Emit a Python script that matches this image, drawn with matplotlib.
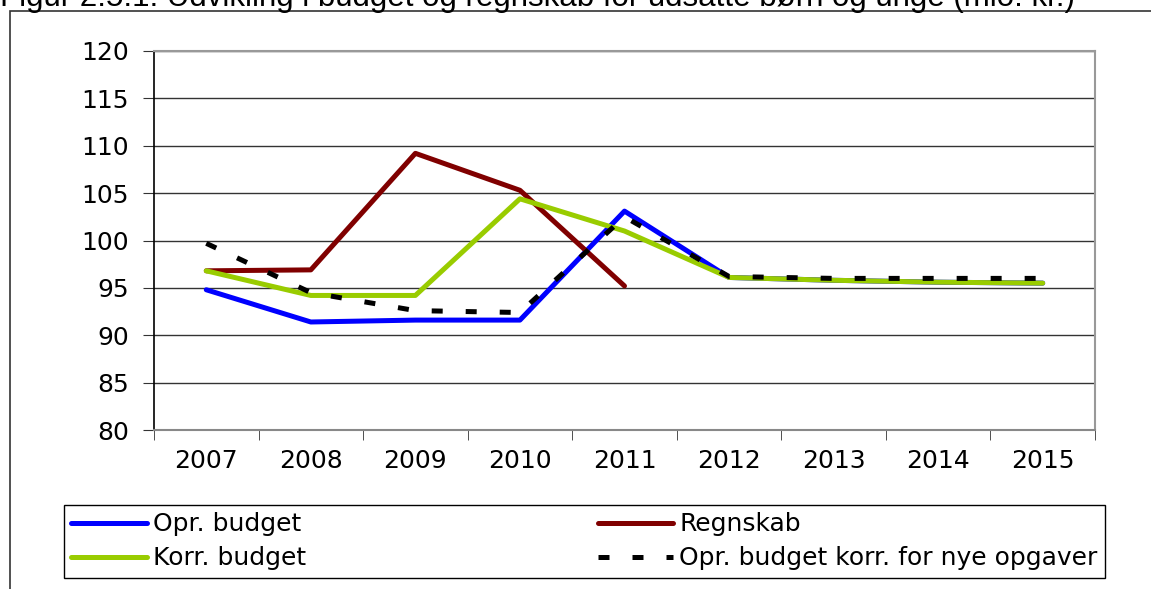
import matplotlib.pyplot as plt
from matplotlib.patches import Rectangle

aar = ['2007', '2008', '2009', '2010', '2011', '2012', '2013', '2014', '2015']
opr_budget = [94.8, 91.4, 91.6, 91.6, 103.1, 96.1, 95.8, 95.6, 95.5]
regnskab = [96.8, 96.9, 109.2, 105.3, 95.2]
korr_budget = [96.8, 94.2, 94.2, 104.4, 101.0, 96.1, 95.8, 95.6, 95.5]
opr_korr = [99.7, 94.5, 92.6, 92.4, 102.5, 96.2, 96.0, 96.0, 96.0]
y_ticks = [80, 85, 90, 95, 100, 105, 110, 115, 120]

W, H = 1151, 589
fs = 18
fig = plt.figure(figsize=(W / 100, H / 100), dpi=100)

# ydre ramme (top + venstre kant)
fig.add_artist(Rectangle((10 / W, -0.1), 1.2, 1.1 - 11 / H, transform=fig.transFigure,
                         fill=False, edgecolor='#333333', lw=1.2))

fig.text(0.0, 1 - 6 / H,
         'Figur 2.5.1: Udvikling i budget og regnskab for udsatte børn og unge (mio. kr.)',
         fontsize=22.5, family='Liberation Sans', va='baseline', ha='left')

ax = fig.add_axes([154 / W, 1 - 430 / H, (1095 - 154) / W, (430 - 51) / H])
x = list(range(len(aar)))

l1, = ax.plot(x, opr_budget, color='#0000ff', lw=3.6, label='Opr. budget', solid_capstyle='round')
l2, = ax.plot(x[:len(regnskab)], regnskab, color='#800000', lw=3.6, label='Regnskab', solid_capstyle='round')
l3, = ax.plot(x, korr_budget, color='#99cc00', lw=3.6, label='Korr. budget', solid_capstyle='round')
l4, = ax.plot(x, opr_korr, color='black', lw=3.6, dashes=(2.2, 4.6), dash_capstyle='butt',
              label='Opr. budget korr. for nye opgaver')

ax.set_xlim(-0.5, len(aar) - 0.5)
ax.set_ylim(80, 120)
ax.set_yticks(y_ticks)
ax.set_xticks(x)
ax.set_xticklabels(aar)
ax.set_xticks([i - 0.5 for i in range(len(aar) + 1)], minor=True)
ax.tick_params(axis='x', which='major', length=0, pad=14, labelsize=fs)
ax.tick_params(axis='x', which='minor', length=7, direction='out', color='#333333')
ax.tick_params(axis='y', length=8, direction='out', pad=10, labelsize=fs, color='#333333')
ax.grid(axis='y', color='#333333', lw=1.0)
ax.set_axisbelow(True)

ax.spines['left'].set_color('black')
ax.spines['left'].set_linewidth(1.2)
ax.spines['bottom'].set_color('#888888')
ax.spines['bottom'].set_linewidth(1.5)
ax.spines['top'].set_color('#999999')
ax.spines['top'].set_linewidth(1.5)
ax.spines['right'].set_color('#999999')
ax.spines['right'].set_linewidth(1.5)

fig.legend([l1, l3, l2, l4], [l1.get_label(), l3.get_label(), l2.get_label(), l4.get_label()],
           ncol=2, mode='expand', loc='lower left',
           bbox_to_anchor=(64 / W, 1 - 578 / H, (1105 - 64) / W, (578 - 506) / H),
           fontsize=fs, frameon=True, fancybox=False, edgecolor='black', framealpha=1,
           handlelength=3.0, handletextpad=0.25, labelspacing=0.4, borderpad=0.3,
           borderaxespad=0)

fig.savefig('out.png', dpi=100)
